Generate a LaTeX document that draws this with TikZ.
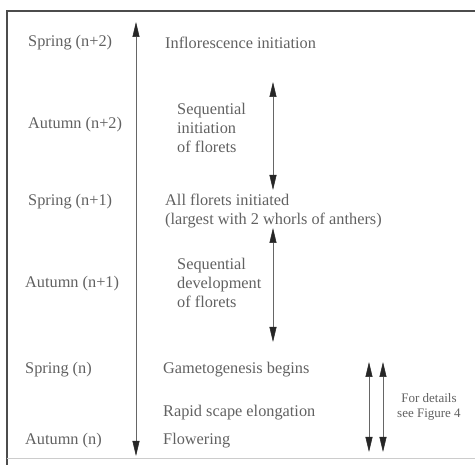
\documentclass[tikz,border=0pt]{standalone}
\usepackage{fontspec}
\setmainfont{Liberation Serif}
\usepackage{tikz}
\usetikzlibrary{arrows.meta,positioning,calc}

\tikzset{
  season/.style = {anchor = west, inner sep = 0pt, text = black!62, font = \fontsize{16.3}{19.5}\selectfont},
  event/.style = {anchor = west, inner sep = 0pt, text = black!62, align = left, font = \fontsize{16.3}{19}\selectfont},
  span/.style = {draw = black!60, line width = .5pt,
    {Triangle[width=7pt,length=15pt,fill=black!85,color=black!85]}-{Triangle[width=7pt,length=15pt,fill=black!85,color=black!85]}}
}

\begin{document}
\begin{tikzpicture}[x = 1pt, y = -1pt]
  \useasboundingbox (0,0) rectangle (475,465);
  % frame
  \draw[black!70, line width = 1.2pt] (7,465) -- (7,11) -- (475,11);
  \draw[black!20, line width = 1pt] (7,459) -- (475,459);
  % seasons
  \node[season] (sp2) at (28,43) {Spring (n+2)};
  \node[season] (au2) at (28,125) {Autumn (n+2)};
  \node[season] (sp1) at (28,202) {Spring (n+1)};
  \node[season] (au1) at (25,284) {Autumn (n+1)};
  \node[season] (sp0) at (25,370) {Spring (n)};
  \node[season] (au0) at (25,441) {Autumn (n)};
  % events
  \node[event] (inflo) at (165,43) {Inflorescence initiation};
  \node[event] (seqinit) at (177,128) {Sequential\\initiation\\of florets};
  \node[event] (allinit) at (165,211) {All florets initiated\\(largest with 2 whorls of anthers)};
  \node[event] (seqdev) at (177,283) {Sequential\\development\\of florets};
  \node[event] (gamet) at (163,370) {Gametogenesis begins};
  \node[event] (scape) at (163,413) {Rapid scape elongation};
  \node[event] (flower) at (163,441) {Flowering};
  \node[event, align = center, font = \fontsize{13}{15.5}\selectfont] (details) at (397,407) {For details\\see Figure 4};
  % arrows
  \coordinate (t0) at (136,22);
  \coordinate (b0) at (136,456);
  \coordinate (t1) at (273,82);
  \coordinate (b1) at (273,190);
  \coordinate (t2) at (273,228);
  \coordinate (b2) at (273,342);
  \coordinate (t3) at (369,362);
  \coordinate (b3) at (369,452);
  \coordinate (t4) at (383,362);
  \coordinate (b4) at (383,452);
  \draw[span] (t0) -- (b0);
  \draw[span] (t1) -- (b1);
  \draw[span] (t2) -- (b2);
  \draw[span] (t3) -- (b3);
  \draw[span] (t4) -- (b4);
\end{tikzpicture}
\end{document}
